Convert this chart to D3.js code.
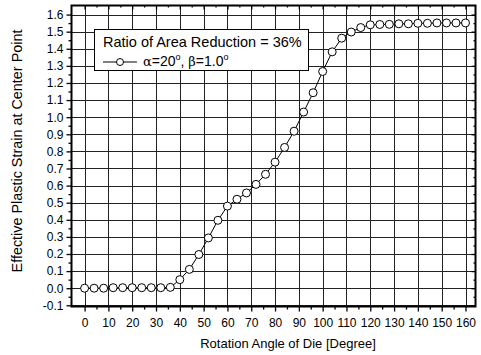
<!DOCTYPE html>
<html><head><meta charset="utf-8">
<script src="https://cdn.jsdelivr.net/npm/d3@7"></script>
<style>
html,body{margin:0;padding:0;background:#fff;}
svg{display:block;font-family:"Liberation Sans",Arial,sans-serif;}
</style></head>
<body>
<svg id="chart" width="481" height="355"></svg>
<script>
const angles = [0,4,8,12,16,20,24,28,32,36,40,44,48,52,56,60,64,68,72,76,80,84,88,92,96,100,104,108,112,116,120,124,128,132,136,140,144,148,152,156,160];
const strain = [0,0,0,0.003,0.003,0.003,0.003,0.003,0.003,0.005,0.05,0.11,0.197,0.294,0.397,0.48,0.52,0.557,0.607,0.666,0.737,0.823,0.918,1.03,1.143,1.267,1.382,1.462,1.498,1.524,1.54,1.542,1.543,1.546,1.546,1.549,1.549,1.551,1.551,1.551,1.551];
const xTicks = [0,10,20,30,40,50,60,70,80,90,100,110,120,130,140,150,160];
const yTicks = [-0.1,0,0.1,0.2,0.3,0.4,0.5,0.6,0.7,0.8,0.9,1.0,1.1,1.2,1.3,1.4,1.5,1.6];
const legendTitle = "Ratio of Area Reduction = 36%";
const xTitle = "Rotation Angle of Die [Degree]";
const yTitle = "Effective Plastic Strain at Center Point";

(function () {
const L = 71.5, R = 475.5, T = 5.5, B = 306.5;
const svg = d3.select("#chart");
const x = d3.scaleLinear().domain([-5.5, 164.2]).range([L, R]);
const y = d3.scaleLinear().domain([-0.107, 1.653]).range([B, T]);

const xMinor = d3.range(5, 165, 10);
const yMinor = d3.range(-0.05, 1.65, 0.1);

// grid
const g = svg.append("g");
g.selectAll(".vg").data(xTicks).join("line")
  .attr("x1", d => Math.round(x(d)) + 0.5).attr("x2", d => Math.round(x(d)) + 0.5)
  .attr("y1", T).attr("y2", B).attr("stroke", "#222").attr("stroke-width", 1);
g.selectAll(".hg").data(yTicks).join("line")
  .attr("y1", d => Math.round(y(d)) + 0.5).attr("y2", d => Math.round(y(d)) + 0.5)
  .attr("x1", L).attr("x2", R).attr("stroke", "#222").attr("stroke-width", 1);

// axes
const fmtY = d => d3.format(".1f")(d).replace("−", "-");
const axBottom = svg.append("g").attr("transform", `translate(0,${B})`)
  .call(d3.axisBottom(x).tickValues(xTicks).tickSize(5).tickPadding(7).tickFormat(d3.format("d")));
const axBottomMinor = svg.append("g").attr("transform", `translate(0,${B})`)
  .call(d3.axisBottom(x).tickValues(xMinor).tickSize(3).tickFormat(""));
const axLeft = svg.append("g").attr("transform", `translate(${L},0)`)
  .call(d3.axisLeft(y).tickValues(yTicks).tickSize(5).tickPadding(3).tickFormat(fmtY));
const axLeftMinor = svg.append("g").attr("transform", `translate(${L},0)`)
  .call(d3.axisLeft(y).tickValues(yMinor).tickSize(3).tickFormat(""));
const axTop = svg.append("g").attr("transform", `translate(0,${T})`)
  .call(d3.axisBottom(x).tickValues(xTicks).tickSize(4).tickFormat(""));
const axTopMinor = svg.append("g").attr("transform", `translate(0,${T})`)
  .call(d3.axisBottom(x).tickValues(xMinor).tickSize(2).tickFormat(""));
const axRight = svg.append("g").attr("transform", `translate(${R},0)`)
  .call(d3.axisLeft(y).tickValues(yTicks).tickSize(4).tickFormat(""));
const axRightMinor = svg.append("g").attr("transform", `translate(${R},0)`)
  .call(d3.axisLeft(y).tickValues(yMinor).tickSize(2).tickFormat(""));

[axBottom, axBottomMinor, axLeft, axLeftMinor, axTop, axTopMinor, axRight, axRightMinor].forEach(a => {
  a.select(".domain").remove();
  a.selectAll("line").attr("stroke", "#000").attr("stroke-width", 1.3);
  a.selectAll("text").attr("fill", "#000").style("font-size", "12px")
   .style("font-family", '"Liberation Sans", Arial, sans-serif');
});

// frame
svg.append("rect").attr("x", L).attr("y", T).attr("width", R - L).attr("height", B - T)
  .attr("fill", "none").attr("stroke", "#000").attr("stroke-width", 2);

// data line
const line = d3.line().x((d, i) => x(angles[i])).y(d => y(d));
svg.append("path").datum(strain).attr("d", line)
  .attr("fill", "none").attr("stroke", "#000").attr("stroke-width", 1);
svg.selectAll(".pt").data(strain).join("circle")
  .attr("cx", (d, i) => x(angles[i])).attr("cy", d => y(d)).attr("r", 4)
  .attr("fill", "#fff").attr("stroke", "#000").attr("stroke-width", 1);

// legend
const lg = svg.append("g");
lg.append("rect").attr("x", 94.5).attr("y", 29.5).attr("width", 214).attr("height", 41)
  .attr("fill", "#fff").attr("stroke", "#000").attr("stroke-width", 1);
lg.append("text").attr("x", 103).attr("y", 47).style("font-size", "14.5px").text(legendTitle);
lg.append("line").attr("x1", 103).attr("x2", 137).attr("y1", 62).attr("y2", 62)
  .attr("stroke", "#000").attr("stroke-width", 1);
lg.append("circle").attr("cx", 120).attr("cy", 62).attr("r", 3.5)
  .attr("fill", "#fff").attr("stroke", "#000");
const lt = lg.append("text").attr("x", 143).attr("y", 66).style("font-size", "14px");
lt.append("tspan").style("font-family", '"DejaVu Serif", serif').style("font-size", "13px").text("α");
lt.append("tspan").text("=20");
lt.append("tspan").attr("dy", -6).style("font-size", "9px").text("o");
lt.append("tspan").attr("dy", 6).text(", ");
lt.append("tspan").style("font-family", '"DejaVu Serif", serif').style("font-size", "13px").text("β");
lt.append("tspan").text("=1.0");
lt.append("tspan").attr("dy", -6).style("font-size", "9px").text("o");

// axis titles
svg.append("text").attr("x", 288).attr("y", 348).attr("text-anchor", "middle")
  .style("font-size", "13px").text(xTitle);
svg.append("text").attr("transform", `translate(22,151) rotate(-90)`)
  .attr("text-anchor", "middle").style("font-size", "14.4px").text(yTitle);
})();
</script>
</body></html>
